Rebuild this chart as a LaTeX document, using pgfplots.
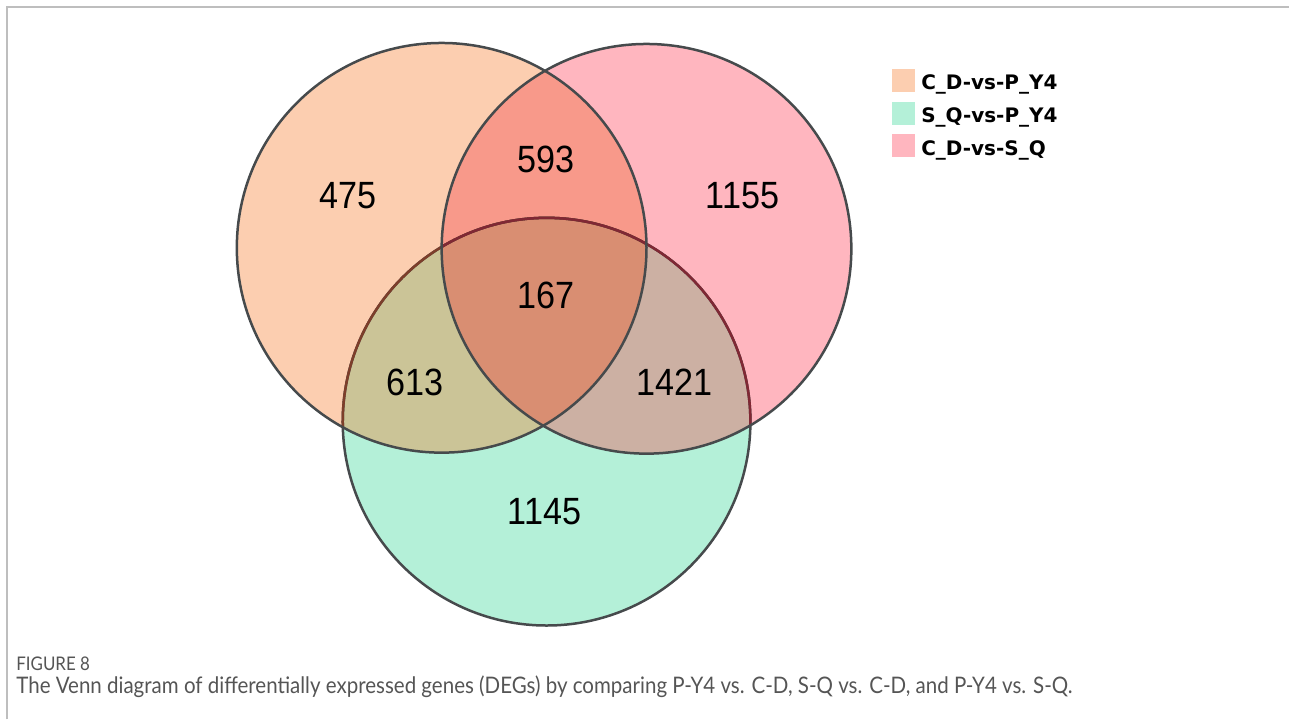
\documentclass[border=0pt]{standalone}
\usepackage{fontspec}
\setmainfont{Lato}
\newfontfamily\capfont[FakeStretch=0.9]{Lato}
\newfontfamily\numfont[FakeStretch=0.9]{Liberation Sans}
\newfontfamily\legfont{DejaVu Sans}
\usepackage{pgfplots}
\pgfplotsset{compat=1.18}
\usepackage{pgfplotstable}

\definecolor{cL}{RGB}{252,206,176}
\definecolor{cR}{RGB}{255,182,191}
\definecolor{cB}{RGB}{180,240,216}
\definecolor{cLR}{RGB}{248,153,138}
\definecolor{cLB}{RGB}{203,196,151}
\definecolor{cRB}{RGB}{204,176,163}
\definecolor{cLRB}{RGB}{217,142,114}
\definecolor{edge}{RGB}{70,74,76}
\definecolor{edgeL}{RGB}{125,62,42}
\definecolor{edgeR}{RGB}{128,40,52}
\definecolor{frame}{RGB}{190,190,190}
\definecolor{captxt}{RGB}{85,85,85}

% counts of the Venn regions (x, y in picture pixels)
\pgfplotstableread{
x y label
348 196 475
546 160 593
743 196 1155
546 296 167
415 383 613
675 383 1421
545 512 1145
}\counts

\def\CL{(axis cs:442,248) circle[radius=205]}
\def\CR{(axis cs:647,249) circle[radius=205]}
\def\CB{(axis cs:547,422) circle[radius=204]}

\begin{document}
\begin{tikzpicture}
\begin{axis}[
  scale only axis, width=645pt, height=360pt,
  xmin=0, xmax=1290, ymin=0, ymax=720, y dir=reverse,
  hide axis, clip=false,
  legend style={at={(axis cs:893,69)}, anchor=north west, draw=none, fill=none,
    inner sep=0pt, outer sep=0pt, column sep=3pt, row sep=3.5pt,
    font=\legfont\bfseries\fontsize{10}{12}\selectfont,
    nodes={inner sep=0pt, text height=9.5pt, text depth=2.5pt}},
  legend cell align=left,
  legend image code/.code={\fill[draw=none,#1] (0pt,-4.6pt) rectangle (11.5pt,6.9pt);},
]
% frame
\draw[frame, line width=1pt] (axis cs:7,720) -- (axis cs:7,7) -- (axis cs:1290,7);
\path (axis cs:0,0) rectangle (axis cs:1290,720);
% fills
\fill[cB] \CB;
\fill[cL] \CL;
\fill[cR] \CR;
\begin{scope}\clip \CL; \fill[cLR] \CR; \fill[cLB] \CB; \end{scope}
\begin{scope}\clip \CR; \fill[cRB] \CB; \end{scope}
\begin{scope}\clip \CL; \clip \CR; \fill[cLRB] \CB; \end{scope}
% outlines
\draw[edge, line width=1.25pt] \CB;
\begin{scope}\clip \CL; \draw[edgeL, line width=1.25pt] \CB; \end{scope}
\begin{scope}\clip \CR; \draw[edgeR, line width=1.25pt] \CB; \end{scope}
\draw[edge, line width=1.25pt] \CL;
\draw[edge, line width=1.25pt] \CR;
% counts
\addplot[draw=none, mark=none, forget plot, nodes near coords, point meta=explicit symbolic,
  nodes near coords style={anchor=center, inner sep=0pt, text=black,
    font=\numfont\fontsize{19}{19}\selectfont}]
  table[x=x, y=y, meta=label] {\counts};
% legend
\addlegendimage{draw=none, fill=cL}\addlegendentry{C\_D-vs-P\_Y4}
\addlegendimage{draw=none, fill=cB}\addlegendentry{S\_Q-vs-P\_Y4}
\addlegendimage{draw=none, fill=cR}\addlegendentry{C\_D-vs-S\_Q}
% caption
\node[anchor=west, inner sep=0pt, text=captxt, font=\capfont\fontsize{9.4}{10}\selectfont] at (axis cs:16,664) {FIGURE 8};
\node[anchor=west, inner sep=0pt, text=captxt, font=\capfont\fontsize{11.4}{12}\selectfont] at (axis cs:16,687) {The Venn diagram of differentially expressed genes (DEGs) by comparing P-Y4 vs. C-D, S-Q vs. C-D, and P-Y4 vs. S-Q.};
\end{axis}
\end{tikzpicture}
\end{document}
